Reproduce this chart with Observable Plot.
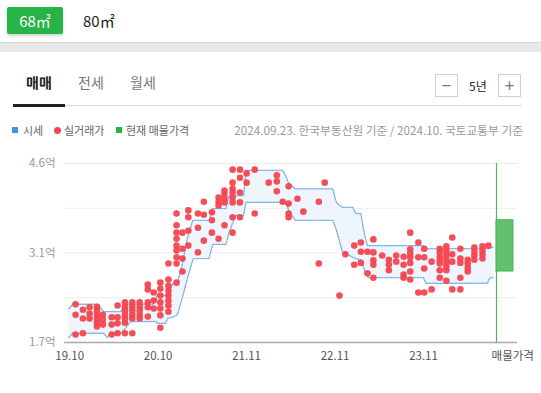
<!DOCTYPE html>
<html><head><meta charset="utf-8">
<script src="https://cdn.jsdelivr.net/npm/d3@7"></script>
<script src="https://cdn.jsdelivr.net/npm/@observablehq/plot@0.6"></script>
<style>
html,body{margin:0;padding:0;background:#fff}
body{width:541px;height:393px;position:relative;overflow:hidden;font-family:"Noto Sans CJK KR","Noto Sans",sans-serif}
.a{position:absolute;white-space:nowrap}
.box{border:1px solid #cfcfcf;width:21px;height:21px;box-sizing:content-box;color:#777;text-align:center;line-height:20px;font-size:17px}
.leg{font-size:11px;color:#666;top:122px;line-height:16px}
#chart{position:absolute;left:0;top:148px}
</style></head><body>
<div class="a" style="left:7px;top:7px;width:56px;height:27px;background:#27b345;border-radius:2px;color:#fff;font-size:15px;line-height:27px;text-align:center;box-shadow:0 2px 3px rgba(0,0,0,0.18)">68㎡</div>
<div class="a" style="left:83px;top:7px;line-height:27px;font-size:15px;color:#222">80㎡</div>
<div class="a" style="left:0;top:42px;width:541px;height:9px;background:#e8e8e9;border-top:1px solid #d6d6d6"></div>

<div class="a" style="left:26px;top:71px;font-size:14px;font-weight:bold;color:#222;line-height:22px">매매</div>
<div class="a" style="left:78px;top:71px;font-size:14px;color:#777;line-height:22px">전세</div>
<div class="a" style="left:130px;top:71px;font-size:14px;color:#777;line-height:22px">월세</div>
<div class="a" style="left:65px;top:105px;width:457px;height:1px;background:#dcdcdc"></div>
<div class="a" style="left:13px;top:104px;width:52px;height:3px;background:#222"></div>
<div class="a box" style="left:435px;top:74px">−</div>
<div class="a" style="left:469px;top:76px;font-size:12px;color:#222;line-height:20px">5년</div>
<div class="a box" style="left:498px;top:74px">+</div>

<div class="a" style="left:12px;top:127px;width:6px;height:6px;background:#4a90e2"></div>
<div class="a leg" style="left:23px">시세</div>
<div class="a" style="left:54px;top:127px;width:7px;height:7px;border-radius:50%;background:#f2454f"></div>
<div class="a leg" style="left:64px">실거래가</div>
<div class="a" style="left:116px;top:127px;width:6px;height:6px;background:#27b345"></div>
<div class="a leg" style="left:126px">현재 매물가격</div>
<div class="a leg" style="right:18px;color:#999;font-size:11.7px">2024.09.23. 한국부동산원 기준 / 2024.10. 국토교통부 기준</div>

<div id="chart"></div>
<script>
// x unit: month-like index, 19.10 = 0
const xTickValues = [0, 12, 24, 36, 48, 60.1];
const xTickLabels = ["19.10", "20.10", "21.11", "22.11", "23.11", "매물가격"];
// y (억)
const yTickValues = [1.7, 2.425, 3.15, 3.875, 4.6];
const yTickLabels = ["1.7억", "", "3.1억", "", "4.6억"];

// 시세 band (lower / upper)
const bandT  = [-0.1,0.4,3.8,4.6,5.1,5.6,6.9,7.5,7.9,8.3,11.3,11.7,11.8,11.9,13.0,13.3,14.0,14.6,15.1,15.9,16.0,16.7,16.8,18.9,19.4,21.2,21.6,22.5,23.6,23.9,28.9,29.3,29.7,30.6,35.7,36.1,36.3,37.0,38.4,38.8,39.5,39.9,40.1,40.4,40.5,48.0,48.3,48.5,56.7,56.8,57.0,57.5];
const bandHi = [2.25,2.32,2.32,2.20,2.20,2.20,2.20,2.32,2.32,2.32,2.32,2.40,2.46,2.46,2.46,2.46,2.66,2.67,2.87,3.35,3.40,3.68,3.68,3.68,3.87,3.87,4.08,4.08,4.08,4.49,4.49,4.40,4.29,4.19,4.19,4.00,3.95,3.89,3.89,3.79,3.79,3.51,3.40,3.27,3.27,3.27,3.24,3.22,3.22,3.22,3.23,3.25];
const bandLo = [1.78,1.85,1.85,1.85,1.78,1.85,1.85,1.92,1.98,2.04,2.04,2.04,2.03,2.01,2.01,2.09,2.11,2.15,2.35,2.70,2.75,3.04,3.06,3.06,3.29,3.29,3.47,3.76,3.76,3.97,3.97,3.97,3.85,3.68,3.68,3.55,3.47,3.17,3.08,3.06,3.04,2.90,2.82,2.78,2.75,2.75,2.66,2.66,2.66,2.70,2.75,2.75];

// 실거래가
const dealMonths = [0.8,1.8,2.7,3.7,4.5,5.7,6.5,7.5,8.5,9.5,10.6,11.4,12.3,13.4,14.5,15.3,16.1,17.4,18.2,19.3,20.2,21.0,22.1,23.1,24.0,25.1,27.0,28.1,28.9,29.7,30.9,31.7,33.8,34.6,36.6,37.4,38.6,39.5,40.4,41.2,42.4,43.3,44.3,45.3,46.2,47.3,48.1,49.1,50.2,51.1,51.9,53.0,54.0,54.9,56.0,56.8];
const dealPrices = [
  [2.32,2.15,1.83],[2.23,2.09,1.85],[2.27,2.17,2.09],[2.28,2.22,2.15,2.09,2.02,1.96],
  [2.15,2.07,1.99],[2.11,1.99,1.83],[2.30,2.11,2.01,1.85],[2.35,2.28,2.22,2.15,2.09,2.02,1.85],
  [2.35,2.28,2.22,2.15,2.09,1.85],[2.35,2.28,2.22,2.15,2.09],[2.64,2.56,2.35,2.27,2.12],
  [2.51,2.38,2.25],[2.67,2.57,2.46,2.35,2.25,2.14,1.94],[2.98,2.72,2.62,2.54,2.46,2.38,2.30,2.20],
  [3.79,3.60,3.48,3.38,3.27,3.19,3.08,2.98,2.67],[3.48,3.22,3.06,2.85],[3.84,3.73,3.51,3.27],
  [3.79,3.56,3.16],[3.98,3.77,3.35],[3.81,3.68,3.48],[4.05,3.98,3.92,3.38],[4.16,4.10,4.03,3.97,3.60],
  [4.50,4.29,4.19,4.13,4.05,3.97,3.73,3.48],[4.50,4.37,4.13,3.97,3.73],[4.44,4.29],[4.50,3.79],
  [4.29],[4.41,4.31,4.15],[3.98],[4.23,3.95,3.79,3.73],[4.03],[3.82],[3.98,2.98],[4.29],
  [2.46],[3.13],[3.27,2.96],[3.32,3.17,2.99],[3.17,2.82],[3.37,3.16,3.03,2.96,2.75],[3.11],
  [3.04,2.96,2.87],[3.11,3.01],[3.09,2.96,2.80,2.75],[3.48,3.21,3.14,3.08,2.99,2.85,2.72],
  [3.32,3.08,2.51],[3.22,3.08,2.90,2.51],[3.01,2.56],[3.22,3.16,3.09,3.03,2.98,2.87,2.75],
  [3.26,3.19,3.13,3.06,2.99,2.93,2.87,2.70],[3.40,3.13,3.01,2.56],[3.22,3.06,2.99,2.75,2.56],
  [3.04,2.98,2.91,2.85],[3.24,3.17,3.11,3.04],[3.26,3.19,3.13,3.06],[3.27]
];

// 현재 매물가격
const listingSlot = [57.9, 60.2];
const listingRange = [2.85, 3.68];

const band = bandT.map((t, i) => ({t, hi: bandHi[i], lo: bandLo[i]}));
const deals = dealMonths.flatMap((t, i) => dealPrices[i].map(p => ({t, p})));
const listing = [{x1: listingSlot[0], x2: listingSlot[1], y1: listingRange[0], y2: listingRange[1]}];
const xLab = new Map(xTickValues.map((v, i) => [v, xTickLabels[i]]));
const yLab = new Map(yTickValues.map((v, i) => [v, yTickLabels[i]]));

const chart = Plot.plot({
  width: 541, height: 226,
  marginLeft: 64, marginRight: 24, marginTop: 15, marginBottom: 32,
  x: {domain: [-0.7, 60.75]},
  y: {domain: [1.7, 4.6]},
  style: {fontFamily: '"Noto Sans CJK KR","Noto Sans",sans-serif', fontSize: "11.5px", background: "transparent", overflow: "visible"},
  marks: [
    Plot.ruleY(yTickValues.slice(1), {stroke: "#ebebeb"}),
    Plot.areaY(band, {x: "t", y1: "lo", y2: "hi", fill: "#eef5fd"}),
    Plot.line(band, {x: "t", y: "hi", stroke: "#aecdf2", strokeWidth: 1.3}),
    Plot.line(band, {x: "t", y: "hi", stroke: "#4d8fe0", strokeWidth: 1.1, strokeDasharray: "1.2 1.8", strokeOpacity: 0.6}),
    Plot.line(band, {x: "t", y: "lo", stroke: "#aecdf2", strokeWidth: 1.3}),
    Plot.line(band, {x: "t", y: "lo", stroke: "#4d8fe0", strokeWidth: 1.1, strokeDasharray: "1.2 1.8", strokeOpacity: 0.6}),
    Plot.dot(deals, {x: "t", y: "p", r: 3.3, fill: "#f3464f", fillOpacity: 0.95}),
    Plot.ruleX([listingSlot[0]], {stroke: "#4cb85a", strokeWidth: 1.2}),
    Plot.rect(listing, {x1: "x1", x2: "x2", y1: "y1", y2: "y2", fill: "#62c06e", stroke: "#45b054", strokeWidth: 1}),
    Plot.ruleY([1.7], {stroke: "#aaaaaa", strokeWidth: 1.5}),
    Plot.axisX({ticks: xTickValues, tickFormat: d => xLab.get(d), tickSize: 0, tickPadding: 9, fill: "#555"}),
    Plot.axisY({ticks: yTickValues, tickFormat: d => yLab.get(d), tickSize: 0, tickPadding: 9, fill: "#999"})
  ]
});
document.getElementById("chart").appendChild(chart);
</script>
</body></html>
